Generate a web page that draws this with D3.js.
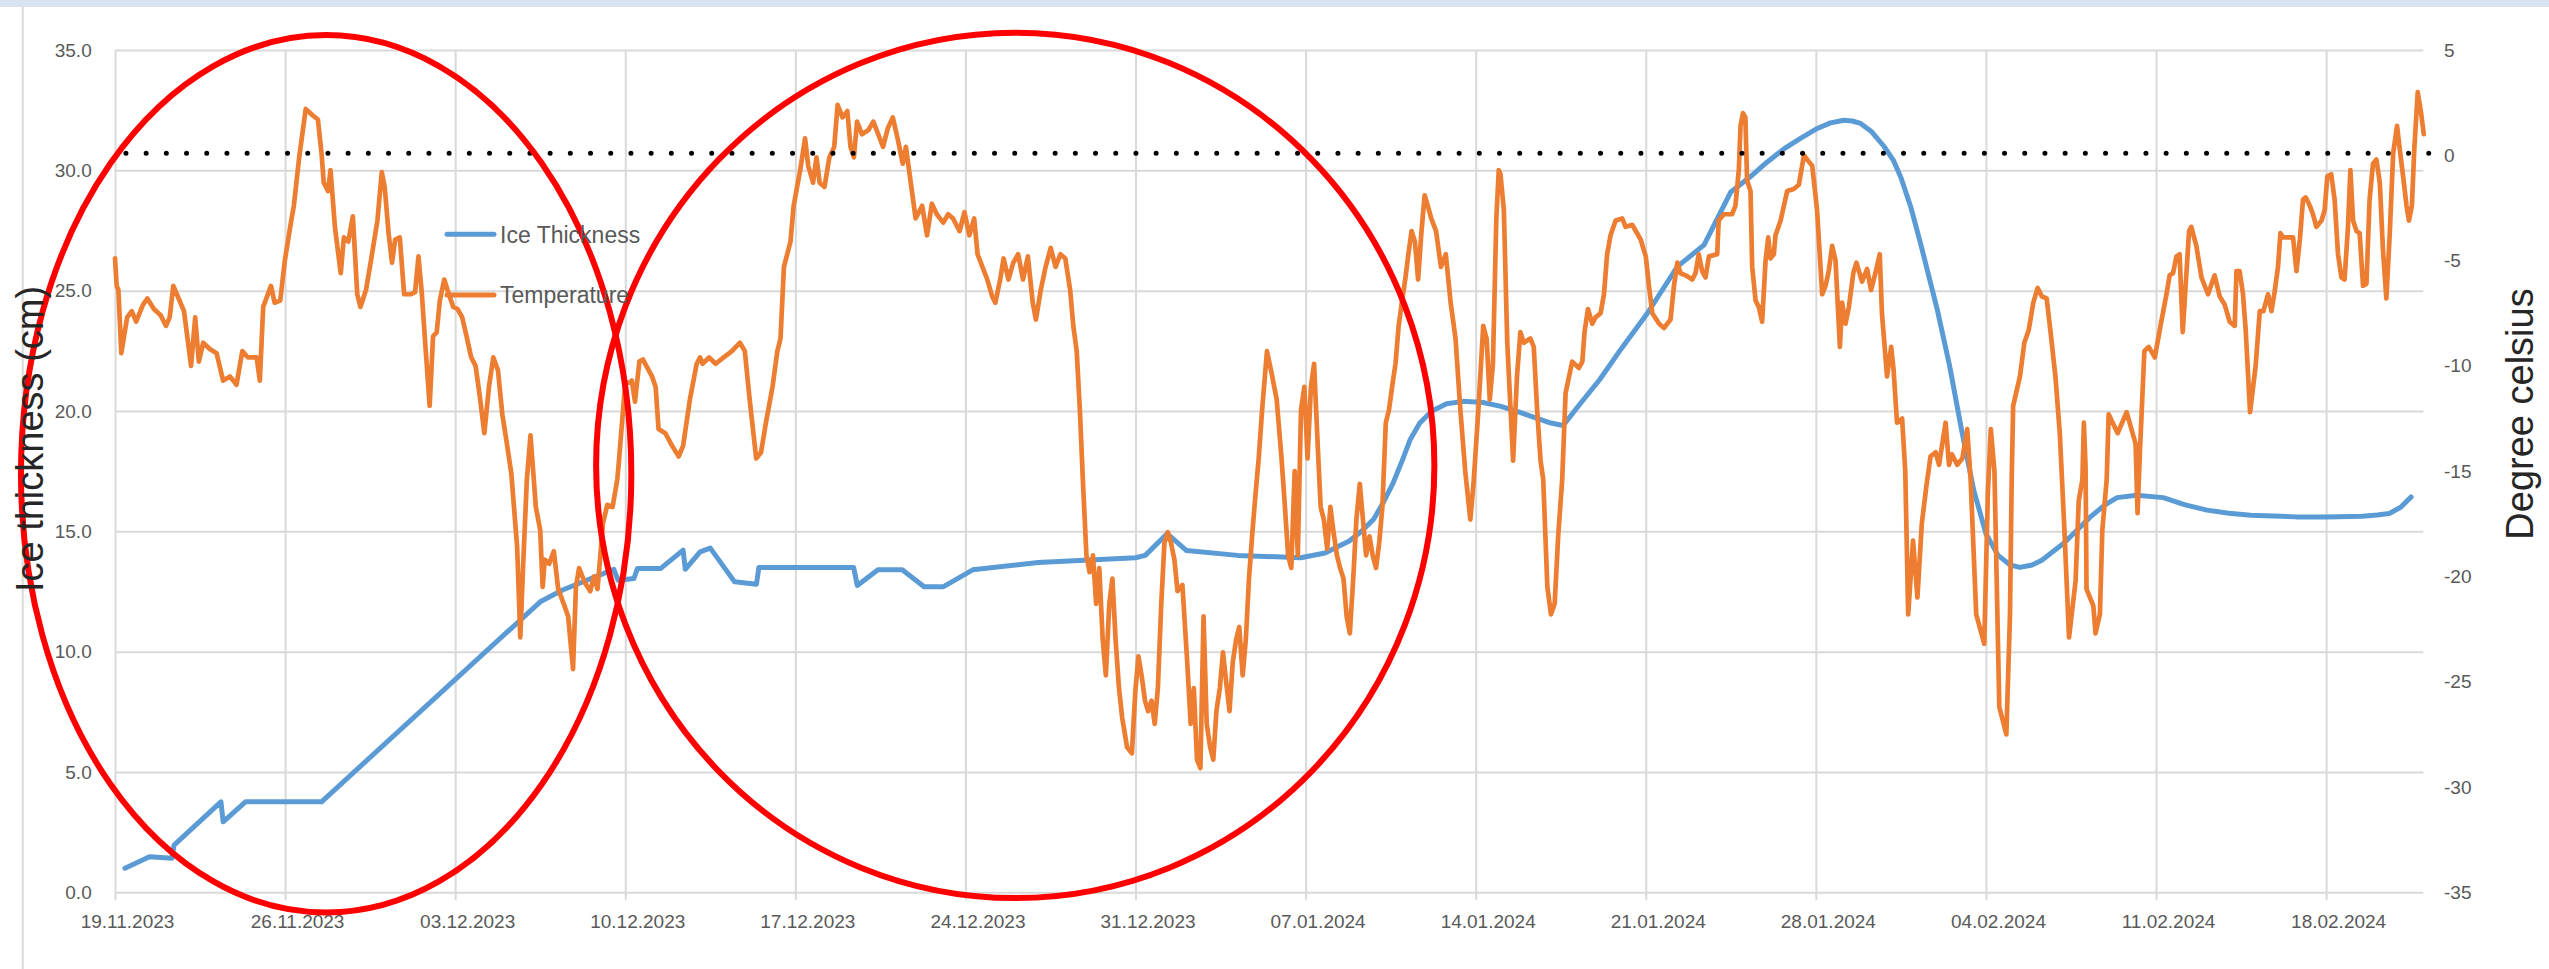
<!DOCTYPE html>
<html>
<head>
<meta charset="utf-8">
<script src="https://d3js.org/d3.v7.min.js"></script>
<style>
  body { margin: 0; background: #fff; }
  text { font-family: "Liberation Sans", Arial, sans-serif; }
</style>
</head>
<body>
<div id="dataviz"></div>
<script>
// ice thickness vs temperature, 19.11.2023 - 22.02.2024
// readings are [days after 19.11.2023, value]

var startDate = new Date(2023, 10, 19);
var endDate = new Date(2024, 1, 22);

var tickLabels = ["19.11.2023", "26.11.2023", "03.12.2023", "10.12.2023", "17.12.2023",
  "24.12.2023", "31.12.2023", "07.01.2024", "14.01.2024", "21.01.2024", "28.01.2024",
  "04.02.2024", "11.02.2024", "18.02.2024"];
var iceTicks = [0, 5, 10, 15, 20, 25, 30, 35];
var tempTicks = [-35, -30, -25, -20, -15, -10, -5, 0, 5];

// ice thickness (cm)
var iceReadings = [
  [0.41, 1.0], [1.42, 1.48], [2.34, 1.41], [2.43, 1.96], [4.36, 3.76], [4.45, 2.93],
  [5.37, 3.76], [8.5, 3.76], [17.5, 12.07], [18.42, 12.56], [20.53, 13.42], [20.7, 12.97],
  [21.36, 13.04], [21.5, 13.46], [22.46, 13.46], [23.38, 14.22], [23.47, 13.42], [24.08, 14.15],
  [24.5, 14.3], [25.5, 12.9], [26.4, 12.8], [26.5, 13.5], [30.4, 13.5], [30.55, 12.75],
  [31.4, 13.4], [32.4, 13.4], [33.3, 12.7], [34.1, 12.7], [35.3, 13.4], [38.0, 13.7],
  [42.0, 13.9], [42.4, 14.0], [43.3, 14.9], [44.1, 14.2], [46.2, 14.0], [48.8, 13.9],
  [49.8, 14.1], [50.8, 14.6], [51.3, 15.0], [51.8, 15.5], [52.2, 16.2], [52.6, 17.0],
  [53.0, 18.0], [53.3, 18.8], [53.7, 19.5], [54.2, 20.0], [54.8, 20.3], [55.5, 20.4],
  [56.3, 20.35], [57.0, 20.2], [57.8, 19.95], [58.5, 19.7], [59.1, 19.5], [59.6, 19.4],
  [60.3, 20.3], [61.1, 21.3], [62.0, 22.6], [63.06, 24.05], [64.3, 26.0], [65.4, 26.9],
  [66.5, 29.1], [67.3, 29.73], [68.0, 30.35], [68.7, 30.9], [69.4, 31.35], [70.06, 31.74],
  [70.6, 31.97], [71.15, 32.08], [71.5, 32.05], [71.84, 31.95], [72.3, 31.6], [72.8, 31.0],
  [73.2, 30.4], [73.5, 29.7], [73.9, 28.5], [74.3, 27.0], [75.0, 24.2], [75.5, 21.9],
  [76.0, 19.2], [76.5, 16.7], [77.0, 14.9], [77.5, 14.0], [78.0, 13.6], [78.4, 13.5],
  [78.9, 13.6], [79.3, 13.8], [80.2, 14.5], [80.8, 15.1], [81.3, 15.6], [81.9, 16.1],
  [82.4, 16.4], [83.2, 16.5], [84.3, 16.4], [85.2, 16.1], [86.1, 15.88], [87.0, 15.75],
  [87.9, 15.67], [89.75, 15.6], [91.0, 15.6], [92.5, 15.63], [93.1, 15.68], [93.6, 15.74],
  [94.07, 16.0], [94.5, 16.43]
];

// temperature (degree celsius)
var tempReadings = [
  [0, -4.9], [0.07, -6.2], [0.14, -6.4], [0.26, -9.4], [0.5, -7.7], [0.69, -7.4], [0.87, -7.9],
  [1.15, -7.1], [1.33, -6.8], [1.6, -7.3], [1.88, -7.6], [2.1, -8.1], [2.25, -7.7], [2.4, -6.2],
  [2.62, -6.8], [2.84, -7.4], [3.13, -10.0], [3.3, -7.7], [3.45, -9.8], [3.63, -8.9], [3.9, -9.2],
  [4.18, -9.4], [4.45, -10.7], [4.73, -10.5], [5.0, -10.9], [5.24, -9.3], [5.47, -9.6], [5.83, -9.6],
  [5.96, -10.7], [6.1, -7.2], [6.42, -6.2], [6.57, -7.0], [6.8, -6.9], [6.99, -5.0], [7.21, -3.4],
  [7.36, -2.4], [7.58, -0.1], [7.85, 2.2], [8.13, 1.9], [8.35, 1.7], [8.5, 0.1], [8.59, -1.3],
  [8.77, -1.7], [8.87, -0.7], [9.05, -3.4], [9.29, -5.6], [9.42, -3.9], [9.6, -4.1], [9.79, -2.9],
  [9.97, -6.6], [10.1, -7.2], [10.33, -6.4], [10.52, -5.1], [10.8, -3.1], [10.98, -0.8], [11.1, -1.5],
  [11.26, -3.7], [11.4, -5.1], [11.53, -4.0], [11.72, -3.9], [11.9, -6.6], [12.17, -6.6], [12.35, -6.5],
  [12.49, -4.8], [12.63, -6.6], [12.76, -8.8], [12.95, -11.9], [13.09, -8.6], [13.24, -8.4], [13.37, -6.9],
  [13.55, -5.9], [13.74, -6.6], [13.92, -7.2], [14.1, -7.3], [14.29, -7.7], [14.47, -8.6], [14.66, -9.6],
  [14.84, -10.0], [15.02, -11.5], [15.2, -13.2], [15.39, -11.0], [15.57, -9.6], [15.76, -10.2], [15.94, -12.3],
  [16.13, -13.7], [16.31, -15.1], [16.55, -18.6], [16.68, -22.9], [16.8, -19.4], [16.95, -15.4], [17.1, -13.3],
  [17.32, -16.7], [17.5, -17.8], [17.6, -20.5], [17.69, -19.2], [17.87, -19.4], [18.06, -18.8], [18.24, -20.6],
  [18.5, -21.4], [18.65, -21.9], [18.85, -24.4], [18.97, -20.5], [19.1, -19.6], [19.34, -20.3], [19.56, -20.7],
  [19.71, -20.0], [19.86, -20.6], [20.08, -17.5], [20.26, -16.6], [20.48, -16.7], [20.67, -15.4], [20.72, -14.8],
  [21.0, -10.8], [21.18, -10.8], [21.27, -10.7], [21.4, -11.7], [21.58, -9.8], [21.73, -9.7], [22.1, -10.5],
  [22.25, -11.0], [22.37, -13.0], [22.65, -13.2], [22.93, -13.8], [23.2, -14.3], [23.38, -13.8], [23.66, -11.6],
  [23.94, -9.9], [24.08, -9.6],
  [24.18, -9.9], [24.45, -9.6], [24.72, -9.9], [25.05, -9.6], [25.39, -9.3], [25.72, -8.9], [25.92, -9.3],
  [26.12, -11.6], [26.39, -14.4], [26.59, -14.1], [26.79, -12.7], [27.06, -11.0], [27.26, -9.3], [27.39, -8.7],
  [27.53, -5.3], [27.8, -4.1], [27.93, -2.4], [28.2, -0.7], [28.4, 0.8], [28.53, -0.5], [28.73, -1.3],
  [28.87, -0.1], [29.0, -1.3], [29.2, -1.5], [29.4, -0.1], [29.6, 0.4], [29.74, 2.4], [29.94, 1.8],
  [30.14, 2.1], [30.27, 0.4], [30.41, -0.1], [30.54, 1.6], [30.74, 1.0], [31.01, 1.2], [31.21, 1.6],
  [31.41, 1.0], [31.61, 0.4], [31.81, 1.3], [32.01, 1.8], [32.21, 0.8], [32.42, -0.4], [32.55, 0.4],
  [32.75, -1.3], [32.95, -3.0], [33.22, -2.4], [33.42, -3.8], [33.62, -2.3], [33.82, -2.8], [34.09, -3.2],
  [34.29, -2.8], [34.49, -3.0], [34.76, -3.6], [34.96, -2.7], [35.16, -3.8], [35.36, -3.0], [35.5, -4.7],
  [35.7, -5.3], [35.9, -5.9], [36.1, -6.7], [36.23, -7.0], [36.43, -5.9], [36.57, -4.9], [36.77, -5.9],
  [36.97, -5.1], [37.17, -4.7], [37.37, -5.9], [37.57, -4.8], [37.77, -7.0], [37.9, -7.8], [38.1, -6.4],
  [38.3, -5.3], [38.51, -4.4], [38.71, -5.3], [38.91, -4.7], [39.11, -4.9], [39.31, -6.4], [39.44, -8.1],
  [39.58, -9.3], [39.71, -12.1], [39.84, -15.6], [39.98, -19.0], [40.11, -19.8], [40.25, -19.0], [40.38, -21.3],
  [40.51, -19.6], [40.65, -23.0], [40.78, -24.7], [40.92, -21.3], [41.05, -20.1], [41.18, -23.0], [41.32, -25.3],
  [41.45, -26.7], [41.65, -28.1], [41.85, -28.4], [41.99, -25.5], [42.12, -23.8], [42.25, -24.7], [42.39, -25.9],
  [42.52, -26.4], [42.66, -25.9], [42.79, -27.0], [42.92, -25.3], [43.06, -21.3], [43.19, -18.4], [43.33, -17.9],
  [43.46, -18.4], [43.6, -19.2], [43.73, -20.7], [43.93, -20.4], [44.13, -24.1], [44.27, -27.0], [44.4, -25.3],
  [44.53, -28.7], [44.67, -29.1], [44.8, -21.9], [44.93, -27.0], [45.07, -28.1], [45.2, -28.7], [45.33, -26.4],
  [45.47, -25.3], [45.6, -23.6], [45.74, -25.1], [45.87, -26.4], [46.0, -24.1], [46.14, -23.0], [46.27, -22.4],
  [46.41, -24.7], [46.54, -23.0], [46.67, -20.1], [46.81, -17.9], [46.94, -16.1], [47.07, -14.4], [47.21, -12.1],
  [47.41, -9.3], [47.61, -10.4], [47.81, -11.6], [48.01, -14.4], [48.15, -16.7], [48.28, -19.0], [48.41, -19.6],
  [48.55, -15.0], [48.68, -19.0], [48.81, -12.1], [48.95, -11.0], [49.08, -14.4], [49.22, -11.0], [49.35, -9.9],
  [49.48, -13.3], [49.62, -16.7], [49.75, -17.3], [49.89, -18.7], [50.02, -16.7], [50.15, -17.9], [50.29, -19.0],
  [50.42, -19.6], [50.56, -20.1], [50.69, -21.9], [50.82, -22.7], [50.96, -20.1], [51.09, -17.3], [51.23, -15.6],
  [51.36, -17.3], [51.49, -19.0], [51.63, -18.1], [51.76, -19.0], [51.9, -19.6], [52.03, -18.4], [52.16, -16.7],
  [52.3, -12.7], [52.43, -12.1], [52.56, -11.0], [52.7, -9.9], [52.83, -8.1], [52.96, -7.0], [53.1, -5.9],
  [53.23, -4.7], [53.36, -3.6], [53.5, -4.1], [53.63, -5.9], [53.77, -3.6], [53.9, -1.9], [54.03, -2.4],
  [54.17, -3.0], [54.37, -3.6], [54.57, -5.3], [54.77, -4.7], [54.97, -7.0], [55.17, -8.7], [55.37, -12.1],
  [55.57, -15.0], [55.78, -17.3], [55.91, -15.6], [56.11, -12.1], [56.31, -8.1], [56.45, -8.7], [56.58, -11.6],
  [56.71, -9.9], [56.85, -3.0], [56.95, -0.7],
  [57.02, -0.9], [57.16, -2.6], [57.3, -8.9], [57.54, -14.5], [57.7, -10.5], [57.84, -8.4], [57.98, -8.9],
  [58.25, -8.7], [58.39, -9.1], [58.53, -12.1], [58.67, -14.5], [58.78, -15.4], [58.95, -20.5], [59.1, -21.8],
  [59.25, -21.3], [59.4, -18.0], [59.56, -15.4], [59.7, -11.3], [59.97, -9.8], [60.25, -10.1], [60.39, -9.8],
  [60.48, -8.4], [60.62, -7.3], [60.8, -8.0], [60.93, -7.7], [61.14, -7.5], [61.28, -6.6], [61.41, -4.7],
  [61.55, -3.8], [61.76, -3.1], [62.03, -3.0], [62.17, -3.4], [62.44, -3.3], [62.79, -4.0], [63.0, -4.8],
  [63.13, -6.2], [63.27, -7.5], [63.55, -8.0], [63.75, -8.2], [64.02, -7.8], [64.16, -6.2], [64.3, -5.1],
  [64.43, -5.6], [64.64, -5.7], [64.91, -5.9], [65.05, -5.6], [65.18, -4.7], [65.32, -5.5], [65.46, -5.8],
  [65.6, -4.8], [65.94, -4.7], [66.0, -3.1], [66.21, -2.8], [66.55, -2.8], [66.69, -2.4], [66.83, -0.7],
  [66.9, 1.4], [67.0, 2.0], [67.1, 1.8], [67.17, -1.2], [67.31, -1.7], [67.38, -5.3], [67.52, -6.9],
  [67.65, -7.2], [67.79, -7.9], [67.93, -5.0], [68.04, -3.9], [68.13, -4.9], [68.27, -4.7], [68.34, -3.8],
  [68.55, -3.1], [68.82, -1.7], [69.09, -1.6], [69.3, -1.4], [69.51, 0.0], [69.71, -0.3], [69.85, -0.5],
  [70.05, -2.6], [70.26, -6.6], [70.4, -6.2], [70.53, -5.5], [70.67, -4.3], [70.81, -5.0], [70.99, -9.1],
  [71.08, -7.0], [71.22, -8.0], [71.36, -7.2], [71.54, -5.6], [71.67, -5.1], [71.9, -6.0], [72.11, -5.4],
  [72.27, -6.4], [72.45, -5.6], [72.63, -4.7], [72.72, -7.5], [72.93, -10.5], [73.1, -9.1], [73.2, -10.2],
  [73.34, -12.7], [73.55, -12.5], [73.68, -15.0], [73.8, -21.8], [74.0, -18.3], [74.18, -21.0], [74.36, -17.5],
  [74.55, -15.7], [74.72, -14.3], [74.93, -14.1], [75.07, -14.7], [75.34, -12.7], [75.48, -14.7], [75.6, -14.2],
  [75.82, -14.7], [76.03, -14.4], [76.23, -13.0], [76.37, -15.4], [76.6, -21.8], [76.93, -23.2], [77.08, -16.0],
  [77.2, -13.0], [77.35, -15.0], [77.55, -26.2], [77.84, -27.5], [77.99, -21.8], [78.06, -15.4], [78.12, -11.9],
  [78.4, -10.5], [78.58, -8.9], [78.76, -8.3], [78.95, -7.0], [79.13, -6.3], [79.3, -6.7], [79.5, -6.8],
  [79.67, -8.5], [79.86, -10.5], [80.04, -13.2], [80.23, -17.8], [80.42, -22.9], [80.69, -20.2], [80.82, -16.4],
  [80.97, -15.4], [81.03, -12.7], [81.1, -14.8], [81.14, -20.6], [81.42, -21.4], [81.51, -22.7], [81.69, -21.8],
  [81.79, -17.8], [81.97, -15.4], [82.05, -12.3], [82.42, -13.2], [82.79, -12.2], [83.16, -13.7], [83.24, -17.0],
  [83.34, -14.0], [83.52, -9.3], [83.7, -9.1], [83.95, -9.6], [84.2, -8.0], [84.43, -6.6], [84.56, -5.7],
  [84.7, -5.6], [84.84, -4.8], [84.97, -4.7], [85.1, -8.4], [85.36, -3.6], [85.45, -3.4], [85.66, -4.3],
  [85.87, -5.8], [86.14, -6.6], [86.41, -5.7], [86.62, -6.7], [86.83, -7.1], [87.03, -7.9], [87.24, -8.1],
  [87.31, -5.5], [87.44, -5.5], [87.58, -6.6], [87.69, -8.3], [87.87, -12.2], [88.1, -10.0], [88.27, -7.4],
  [88.42, -7.4], [88.61, -6.6], [88.75, -7.4], [88.88, -6.5], [89.02, -5.3], [89.12, -3.7], [89.23, -3.9],
  [89.43, -3.9], [89.64, -3.9], [89.78, -5.5], [89.92, -4.0], [90.05, -2.1], [90.16, -2.0], [90.33, -2.4],
  [90.46, -2.8], [90.6, -3.4], [90.81, -3.1], [90.94, -2.6], [91.05, -1.0], [91.21, -0.9], [91.35, -2.1],
  [91.49, -4.7], [91.63, -5.8], [91.76, -5.9], [91.9, -3.4], [92.0, -0.7], [92.11, -3.1], [92.25, -3.6],
  [92.38, -3.7], [92.52, -6.2], [92.66, -6.1], [92.79, -2.1], [92.93, -0.4], [93.07, -0.2], [93.21, -1.3],
  [93.34, -4.5], [93.48, -6.8], [93.62, -3.7], [93.76, 0.1], [93.92, 1.4], [94.03, 0.3], [94.17, -1.0],
  [94.31, -2.4], [94.41, -3.1], [94.53, -2.4], [94.63, 0.3], [94.77, 3.0], [94.91, 2.0], [95.02, 1.0]
];

// dotted freezing line, [days] at a constant temperature
var zeroLineDays = [0.45, 95.4];
var zeroLineTemp = 0.1;

// red hand-drawn rings, in data units: centre day, half width (days), centre cm, half height (cm)
var rings = [
  [8.69, 12.56, 17.39, 18.23],
  [37.05, 17.25, 17.74, 17.98]
];

// set the dimensions and margins of the graph
var width = 2549,
    height = 969,
    margin = {top: 50, right: 125.7, bottom: 76.7, left: 115};
var plotW = width - margin.left - margin.right,
    plotH = height - margin.top - margin.bottom;

var svg = d3.select("#dataviz")
    .append("svg").attr("width", width)
    .attr("height", height);

// the light strip on top and the frame line on the left
svg.append("rect")
    .attr("x", 0).attr("y", 0)
    .attr("width", width).attr("height", 7)
    .attr("fill", "#dae3f3");
svg.append("line")
    .attr("x1", 22.7).attr("x2", 22.7)
    .attr("y1", 7).attr("y2", height)
    .attr("stroke", "#d9d9d9").attr("stroke-width", 2);

var g = svg.append("g")
    .attr("transform", "translate(" + margin.left + "," + margin.top + ")");

var dayMs = 24 * 3600 * 1000;
function dayToDate(d) { return new Date(startDate.getTime() + d * dayMs); }
var parseDate = d3.timeParse("%d.%m.%Y");
var tickDates = tickLabels.map(parseDate);

var x = d3.scaleTime().domain([startDate, endDate]).range([0, plotW]);
var yIce = d3.scaleLinear().domain([0, 35]).range([plotH, 0]);
var yTemp = d3.scaleLinear().domain([-35, 5]).range([plotH, 0]);

// horizontal gridlines
var hGrid = g.append("g")
    .call(d3.axisLeft(yIce).tickValues(iceTicks).tickSize(-plotW).tickFormat(""));
hGrid.select(".domain").remove();
hGrid.selectAll("line").attr("stroke", "#d9d9d9").attr("stroke-width", 2);

// vertical gridlines, they stick out below the axis a bit
var vGrid = g.append("g")
    .attr("transform", "translate(0," + (plotH + 8) + ")")
    .call(d3.axisBottom(x).tickValues(tickDates).tickSize(-(plotH + 8)).tickFormat(""));
vGrid.select(".domain").remove();
vGrid.selectAll("line").attr("stroke", "#d9d9d9").attr("stroke-width", 2);

// axis labels
var xAxis = g.append("g")
    .attr("transform", "translate(0," + plotH + ")")
    .call(d3.axisBottom(x).tickValues(tickDates).tickSize(0).tickPadding(22)
      .tickFormat(d3.timeFormat("%d.%m.%Y")));
xAxis.selectAll("text").attr("dx", 12);

var yAxisL = g.append("g")
    .call(d3.axisLeft(yIce).tickValues(iceTicks).tickSize(0).tickPadding(23.3)
      .tickFormat(d3.format(".1f")));

var yAxisR = g.append("g")
    .attr("transform", "translate(" + plotW + ",0)")
    .call(d3.axisRight(yTemp).tickValues(tempTicks).tickSize(0).tickPadding(20.7)
      .tickFormat(function(d) { return String(d); }));

[xAxis, yAxisL, yAxisR].forEach(function(a) {
  a.select(".domain").remove();
  a.selectAll("text")
    .style("font-family", "'Liberation Sans', Arial, sans-serif")
    .style("font-size", "19px")
    .attr("fill", "#595959");
});

// series
var iceLine = d3.line()
    .x(function(d) { return x(dayToDate(d[0])); })
    .y(function(d) { return yIce(d[1]); });
var tempLine = d3.line()
    .x(function(d) { return x(dayToDate(d[0])); })
    .y(function(d) { return yTemp(d[1]); });

g.append("path")
    .datum(iceReadings)
    .attr("d", iceLine)
    .attr("fill", "none")
    .attr("stroke", "#5b9bd5")
    .attr("stroke-width", 5)
    .attr("stroke-linejoin", "round")
    .attr("stroke-linecap", "round");

g.append("path")
    .datum(tempReadings)
    .attr("d", tempLine)
    .attr("fill", "none")
    .attr("stroke", "#ed7d31")
    .attr("stroke-width", 4.7)
    .attr("stroke-linejoin", "round")
    .attr("stroke-linecap", "round");

// freezing point, dotted
g.append("path")
    .datum(zeroLineDays.map(function(d) { return [d, zeroLineTemp]; }))
    .attr("d", tempLine)
    .attr("fill", "none")
    .attr("stroke", "#000")
    .attr("stroke-width", 5)
    .attr("stroke-linecap", "round")
    .attr("stroke-dasharray", "0 20.2");

// red rings drawn over the chart
g.selectAll("ellipse.ring")
  .data(rings)
  .enter()
  .append("ellipse")
    .attr("class", "ring")
    .attr("cx", function(d) { return x(dayToDate(d[0])); })
    .attr("rx", function(d) { return x(dayToDate(d[0] + d[1])) - x(dayToDate(d[0])); })
    .attr("cy", function(d) { return yIce(d[2]); })
    .attr("ry", function(d) { return yIce(0) - yIce(d[3]); })
    .attr("fill", "none")
    .attr("stroke", "#ff0000")
    .attr("stroke-width", 6);

// legend
var legend = svg.append("g");
var legendItems = [["Ice Thickness", "#5b9bd5", 234.3], ["Temperature", "#ed7d31", 295]];
legendItems.forEach(function(it) {
  legend.append("line")
    .attr("x1", 447).attr("x2", 494)
    .attr("y1", it[2]).attr("y2", it[2])
    .attr("stroke", it[1]).attr("stroke-width", 5)
    .attr("stroke-linecap", "round");
  legend.append("text")
    .attr("x", 500).attr("y", it[2] + 8.2)
    .style("font-size", "23px")
    .attr("fill", "#595959")
    .text(it[0]);
});

// axis titles
svg.append("text")
    .attr("transform", "translate(43,439) rotate(-90)")
    .attr("text-anchor", "middle")
    .style("font-size", "38px")
    .attr("fill", "#262626")
    .text("Ice thickness (cm)");

svg.append("text")
    .attr("transform", "translate(2533,414) rotate(-90)")
    .attr("text-anchor", "middle")
    .style("font-size", "38px")
    .attr("fill", "#262626")
    .text("Degree celsius");
</script>
</body>
</html>
